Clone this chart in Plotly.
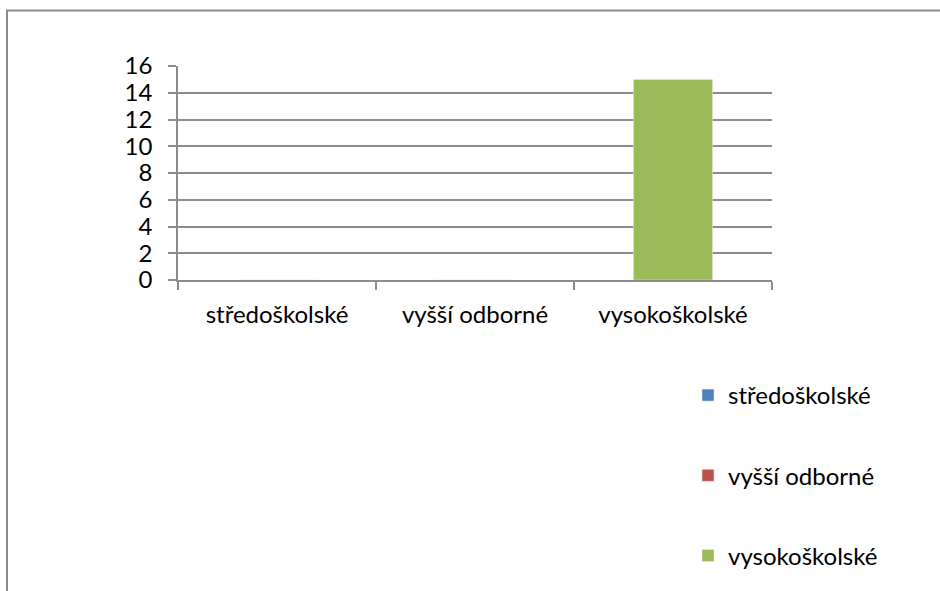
import plotly.graph_objects as go

categories = ["středoškolské", "vyšší odborné", "vysokoškolské"]
values = [0, 0, 15]
colors = ["#4F81BD", "#C0504D", "#9BBB59"]
y_ticks = [0, 2, 4, 6, 8, 10, 12, 14, 16]

W, H = 940, 591
L, T = 178, 66
R = 940 - 772
B = 591 - 280
pw, ph = W - L - R, H - T - B

fig = go.Figure()
for i, (cat, val, col) in enumerate(zip(categories, values, colors)):
    fig.add_trace(go.Bar(
        x=[cat], y=[val], name=cat, marker_color=col, width=0.4,
        offsetgroup="g", legendgroup=f"g{i}",
    ))

font = dict(family="Lato, 'Open Sans', sans-serif", size=24, color="#000000")
grid = "#8C8C8C"

def px_x(px):
    return (px - L) / pw

def px_y(py):
    return (T + ph - py) / ph

fig.update_layout(
    width=W, height=H,
    margin=dict(l=L, r=R, t=T, b=B, autoexpand=False),
    paper_bgcolor="white", plot_bgcolor="white",
    font=font,
    barmode="group",
    showlegend=True,
    legend=dict(
        x=px_x(688), y=px_y(373), xanchor="left", yanchor="top",
        tracegroupgap=46, font=font, bgcolor="rgba(0,0,0,0)",
    ),
    xaxis=dict(
        type="category", categoryorder="array", categoryarray=categories,
        showline=True, linecolor=grid, linewidth=1.6,
        ticks="outside", ticklen=8, tickcolor=grid, tickwidth=1.6,
        tickson="boundaries", showgrid=False, ticklabelstandoff=12,
        range=[-0.5, 2.5],
    ),
    yaxis=dict(
        range=[0, 16], tickvals=y_ticks, ticktext=[str(v) for v in y_ticks],
        showgrid=True, gridcolor=grid, gridwidth=1.6,
        showline=True, linecolor=grid, linewidth=1.6,
        ticks="outside", ticklen=8, tickcolor=grid, tickwidth=1.6,
        zeroline=False, ticklabelstandoff=11,
    ),
    shapes=[dict(
        type="rect", xref="paper", yref="paper",
        x0=px_x(7), x1=px_x(1000), y0=px_y(10.5), y1=px_y(700),
        line=dict(color="#8C8C8C", width=2), fillcolor="rgba(0,0,0,0)",
        layer="above",
    )],
)

fig.write_html(
    "out.html",
    config={"displayModeBar": False},
    post_script="document.body.style.margin='0';document.body.style.overflow='hidden';",
)
